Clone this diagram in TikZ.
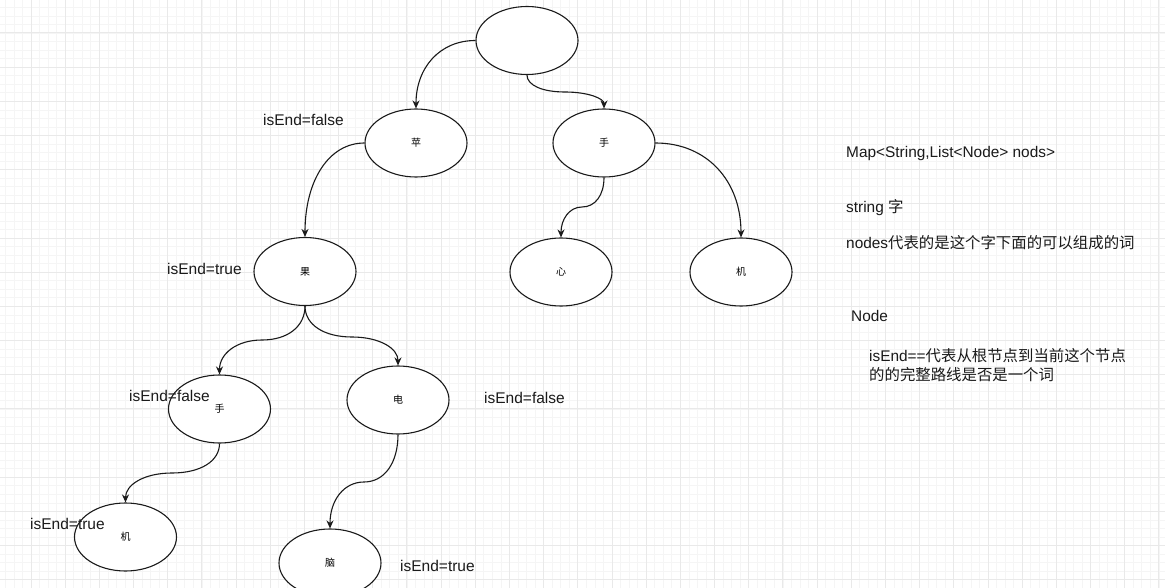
\documentclass[tikz,border=0pt]{standalone}
\usepackage{fontspec}
\setmainfont{Liberation Sans}
\newfontfamily\cjk{Noto Sans CJK SC}
\usetikzlibrary{shapes.geometric,arrows.meta,calc}
\definecolor{gridminor}{HTML}{F5F5F5}
\definecolor{gridmajor}{HTML}{E9E9E9}
\definecolor{inkc}{HTML}{1A1A1A}
\begin{document}
\begin{tikzpicture}[x=1pt,y=-1pt,
  trienode/.style={ellipse,draw=inkc,line width=1.1pt,fill=white,minimum width=102pt,minimum height=68pt,inner sep=0pt,font=\cjk\fontsize{10}{12}\selectfont},
  link/.style={draw=inkc,line width=1.1pt,-{Stealth[length=8pt,width=7pt]}},
  lbl/.style={anchor=base west,inner sep=0pt,font=\fontsize{15.5}{18}\selectfont,text=inkc},
  note/.style={anchor=base west,inner sep=0pt,font=\fontsize{15.4}{18}\selectfont,text=inkc}]
\path[use as bounding box] (0,0) rectangle (1165,588);
\clip (0,0) rectangle (1165,588);
\fill[white] (0,0) rectangle (1165,588);
% grid
\foreach \i in {0,...,137} \draw[gridminor,line width=0.8pt] ({5.37+\i*8.545},0) -- ({5.37+\i*8.545},588);
\foreach \i in {0,...,69} \draw[gridminor,line width=0.8pt] (0,{7.365+\i*8.545}) -- (1165,{7.365+\i*8.545});
\foreach \i in {-1,...,33} \draw[gridmajor,line width=1pt] ({31+\i*34.18},0) -- ({31+\i*34.18},588);
\foreach \i in {-1,...,17} \draw[gridmajor,line width=1pt] (0,{33+\i*34.18}) -- (1165,{33+\i*34.18});
% nodes
\node[trienode] (root) at (527,40.5) {};
\node[trienode] (pin) at (416,143) {苹};
\node[trienode] (shouA) at (604,143) {手};
\node[trienode] (guo) at (305,271.5) {果};
\node[trienode] (xin) at (561,272) {心};
\node[trienode] (jiA) at (741,272) {机};
\node[trienode] (shouB) at (219.5,409) {手};
\node[trienode] (dian) at (398,400) {电};
\node[trienode] (jiB) at (125.5,537) {机};
\node[trienode] (nao) at (330,563) {脑};
% helper coordinates
\coordinate (c1) at (pin.north |- root.west);
\coordinate (c3) at (guo.north |- pin.west);
\coordinate (c5) at (jiA.north |- shouA.east);
\coordinate (m2) at (565,92);
\coordinate (m4) at (582,207);
\coordinate (m6) at (262,340);
\coordinate (m7) at (352,337);
\coordinate (m8) at (172,473);
\coordinate (m9) at (364,482);
% edges
\draw[link] (root.west) .. controls ($(root.west)!0.6!(c1)$) and ($(pin.north)!0.6!(c1)$) .. (pin.north);
\draw[link] (pin.west) .. controls ($(pin.west)!0.6!(c3)$) and ($(guo.north)!0.6!(c3)$) .. (guo.north);
\draw[link] (shouA.east) .. controls ($(shouA.east)!0.6!(c5)$) and ($(jiA.north)!0.6!(c5)$) .. (jiA.north);
\draw[link] (root.south) .. controls ($(root.south)!0.6!(root.south |- m2)$) and ($(m2)!0.6!(root.south |- m2)$) .. (m2)
  .. controls ($(m2)!0.6!(shouA.north |- m2)$) and ($(shouA.north)!0.6!(shouA.north |- m2)$) .. (shouA.north);
\draw[link] (shouA.south) .. controls ($(shouA.south)!0.6!(shouA.south |- m4)$) and ($(m4)!0.6!(shouA.south |- m4)$) .. (m4)
  .. controls ($(m4)!0.6!(xin.north |- m4)$) and ($(xin.north)!0.6!(xin.north |- m4)$) .. (xin.north);
\draw[link] (guo.south) .. controls ($(guo.south)!0.6!(guo.south |- m6)$) and ($(m6)!0.6!(guo.south |- m6)$) .. (m6)
  .. controls ($(m6)!0.6!(shouB.north |- m6)$) and ($(shouB.north)!0.6!(shouB.north |- m6)$) .. (shouB.north);
\draw[link] (guo.south) .. controls ($(guo.south)!0.6!(guo.south |- m7)$) and ($(m7)!0.6!(guo.south |- m7)$) .. (m7)
  .. controls ($(m7)!0.6!(dian.north |- m7)$) and ($(dian.north)!0.6!(dian.north |- m7)$) .. (dian.north);
\draw[link] (shouB.south) .. controls ($(shouB.south)!0.6!(shouB.south |- m8)$) and ($(m8)!0.6!(shouB.south |- m8)$) .. (m8)
  .. controls ($(m8)!0.6!(jiB.north |- m8)$) and ($(jiB.north)!0.6!(jiB.north |- m8)$) .. (jiB.north);
\draw[link] (dian.south) .. controls ($(dian.south)!0.6!(dian.south |- m9)$) and ($(m9)!0.6!(dian.south |- m9)$) .. (m9)
  .. controls ($(m9)!0.6!(nao.north |- m9)$) and ($(nao.north)!0.6!(nao.north |- m9)$) .. (nao.north);
% labels
\node[lbl] (l1) at (263,126) {isEnd=false};
\node[lbl] (l2) at (167,274) {isEnd=true};
\node[lbl] (l3) at (129,401) {isEnd=false};
\node[lbl] (l4) at (484,403) {isEnd=false};
\node[lbl] (l5) at (30,529) {isEnd=true};
\node[lbl] (l6) at (400,571) {isEnd=true};
% notes
\node[note] (n1) at (846,158) {Map<String,List<Node> nods>};
\node[note] (n2) at (846,213) {string {\cjk 字}};
\node[note] (n3) at (846,248) {nodes{\cjk 代表的是这个字下面的可以组成的词}};
\node[note] (n4) at (851,321) {Node};
\node[note] (n5) at (869,361) {isEnd=={\cjk 代表从根节点到当前这个节点}};
\node[note] (n6) at (869,380) {{\cjk 的的完整路线是否是一个词}};
\end{tikzpicture}
\end{document}
